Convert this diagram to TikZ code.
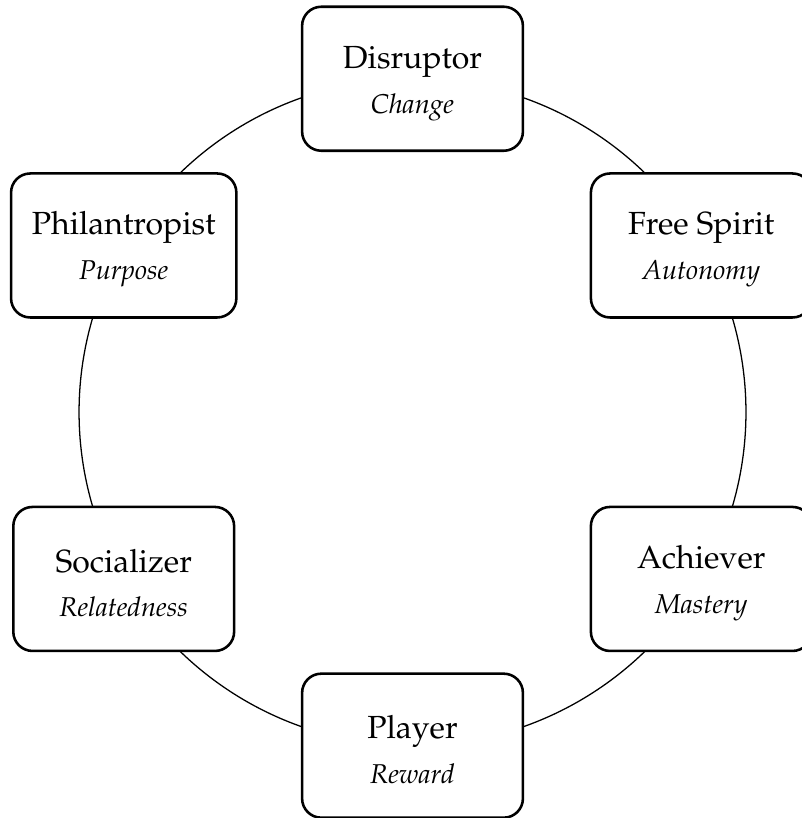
\documentclass[tikz,border=0pt]{standalone}
\usepackage[T1]{fontenc}
\usepackage{mathpazo}
\usetikzlibrary{backgrounds}
\newcommand\rolesub[1]{{\fontsize{8.5}{10}\selectfont\itshape #1}}
\newcommand\roletop{\rule{0pt}{9.8pt}}
\tikzset{
  role/.style={draw, line width=0.8pt, rounded corners=6pt, fill=white,
    minimum width=69pt, minimum height=45pt, inner xsep=6.5pt,
    align=center, font=\fontsize{10}{12}\selectfont},
  ring/.style={draw, line width=0.4pt}
}
\begin{document}
\begin{tikzpicture}
\useasboundingbox (-128.9pt,-126.8pt) rectangle (121.7pt,128.8pt);
\def\R{104.2pt}
\node[role] (dis) at (90:\R) {\roletop Disruptor\\[2pt]\rolesub{Change}};
\node[role] (fre) at (30:\R) {\roletop Free Spirit\\[2pt]\rolesub{Autonomy}};
\node[role] (ach) at (-30:\R) {\roletop Achiever\\[2pt]\rolesub{Mastery}};
\node[role] (pla) at (-90:\R) {\roletop Player\\[2pt]\rolesub{Reward}};
\node[role] (soc) at (210:\R) {\roletop Socializer\\[2pt]\rolesub{Relatedness}};
\node[role] (phi) at (150:\R) {\roletop Philantropist\\[2pt]\rolesub{Purpose}};
\begin{scope}[on background layer]
\draw[ring] (dis.center) arc[start angle=90, end angle=30, radius=\R];
\draw[ring] (fre.center) arc[start angle=30, end angle=-30, radius=\R];
\draw[ring] (ach.center) arc[start angle=-30, end angle=-90, radius=\R];
\draw[ring] (pla.center) arc[start angle=-90, end angle=-150, radius=\R];
\draw[ring] (soc.center) arc[start angle=210, end angle=150, radius=\R];
\draw[ring] (phi.center) arc[start angle=150, end angle=90, radius=\R];
\end{scope}
\end{tikzpicture}
\end{document}
